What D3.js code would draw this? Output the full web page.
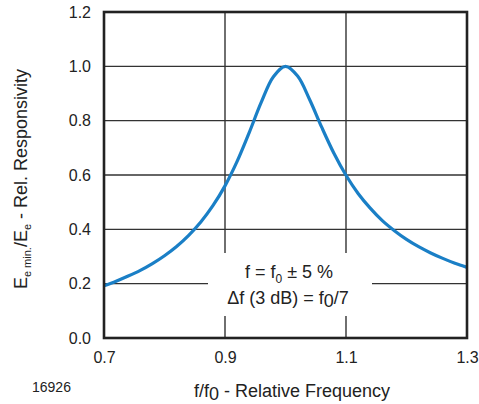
<!DOCTYPE html>
<html><head><meta charset="utf-8">
<script src="https://cdn.jsdelivr.net/npm/d3@7"></script>
<style>body{margin:0;background:#fff}svg{display:block;font-family:"Liberation Sans",Arial,sans-serif}</style>
</head><body>
<svg id="c" width="479" height="404"></svg>
<script>
const freq = [0.70,0.72,0.74,0.76,0.78,0.80,0.82,0.84,0.86,0.88,0.90,0.92,0.94,0.96,0.98,1.00,1.02,1.04,1.06,1.08,1.10,1.12,1.14,1.16,1.18,1.20,1.22,1.24,1.26,1.28,1.30];
const resp = [0.192,0.209,0.228,0.249,0.274,0.303,0.337,0.378,0.427,0.487,0.560,0.650,0.756,0.868,0.962,1.000,0.964,0.877,0.775,0.680,0.599,0.532,0.478,0.432,0.395,0.363,0.336,0.313,0.293,0.275,0.260];
const xTicks = [0.7,0.9,1.1,1.3];
const yTicks = [0,0.2,0.4,0.6,0.8,1.0,1.2];
const xGrid = [0.9,1.1];
const yGrid = [0.2,0.4,0.6,0.8,1.0];

const svg = d3.select("#c");
const m = {l:104, r:467, t:12, b:338};
const x = d3.scaleLinear().domain([0.7,1.3]).range([m.l,m.r]);
const y = d3.scaleLinear().domain([0,1.2]).range([m.b,m.t]);
const ink = "#222";

// grid
svg.append("g").selectAll("line").data(yGrid).join("line")
  .attr("x1",m.l).attr("x2",m.r).attr("y1",d=>y(d)).attr("y2",d=>y(d))
  .attr("stroke","#333").attr("stroke-width",1.4);
svg.append("g").selectAll("line").data(xGrid).join("line")
  .attr("y1",m.t).attr("y2",m.b).attr("x1",d=>x(d)).attr("x2",d=>x(d))
  .attr("stroke","#333").attr("stroke-width",1.4);

// annotation box background
svg.append("rect").attr("x",208).attr("y",253).attr("width",164).attr("height",63).attr("fill","#fff");

// curve
svg.append("path").datum(freq.map((f,i)=>[f,resp[i]]))
  .attr("d", d3.line().x(d=>x(d[0])).y(d=>y(d[1])).curve(d3.curveCatmullRom))
  .attr("fill","none").attr("stroke","#1a7fc6").attr("stroke-width",3.2);

// frame
svg.append("rect").attr("x",m.l).attr("y",m.t).attr("width",m.r-m.l).attr("height",m.b-m.t)
  .attr("fill","none").attr("stroke",ink).attr("stroke-width",2.6);

// axes tick labels
const xa = svg.append("g").attr("transform",`translate(0,${m.b})`)
  .call(d3.axisBottom(x).tickValues(xTicks).tickFormat(d3.format(".1f")).tickSize(0).tickPadding(14));
xa.select(".domain").remove();
xa.selectAll("text").attr("font-size",16).attr("fill",ink).attr("font-family","Liberation Sans, Arial, sans-serif");
const ya = svg.append("g").attr("transform",`translate(${m.l},0)`)
  .call(d3.axisLeft(y).tickValues(yTicks).tickFormat(d3.format(".1f")).tickSize(0).tickPadding(13));
ya.select(".domain").remove();
ya.selectAll("text").attr("font-size",16).attr("fill",ink).attr("font-family","Liberation Sans, Arial, sans-serif");

// annotation text
const t1 = svg.append("text").attr("x",289).attr("y",278).attr("text-anchor","middle").attr("font-size",18).attr("fill",ink);
t1.append("tspan").text("f = f");
t1.append("tspan").text("0").attr("font-size",12).attr("dy",5);
t1.append("tspan").text(" ± 5 %").attr("dy",-5);
const t2 = svg.append("text").attr("x",288).attr("y",304).attr("text-anchor","middle").attr("font-size",18).attr("fill",ink);
t2.append("tspan").text("Δf (3 dB) = f");
t2.append("tspan").text("0").attr("dy",3);
t2.append("tspan").text("/7").attr("dy",-3);

// x title
const xt = svg.append("text").attr("x",292).attr("y",397).attr("text-anchor","middle").attr("font-size",18).attr("fill",ink);
xt.append("tspan").text("f/f");
xt.append("tspan").text("0").attr("dy",3);
xt.append("tspan").text(" - Relative Frequency").attr("dy",-3);

// y title
const yt = svg.append("text").attr("transform","translate(27,179) rotate(-90)").attr("text-anchor","middle").attr("font-size",18).attr("fill",ink);
yt.append("tspan").text("E");
yt.append("tspan").text("e min.").attr("font-size",11).attr("dy",4);
yt.append("tspan").text("/E").attr("dy",-4);
yt.append("tspan").text("e").attr("font-size",11).attr("dy",4);
yt.append("tspan").text(" - Rel. Responsivity").attr("dy",-4);

svg.append("text").attr("x",32).attr("y",392).attr("font-size",14).attr("fill",ink).text("16926");
</script>
</body></html>
